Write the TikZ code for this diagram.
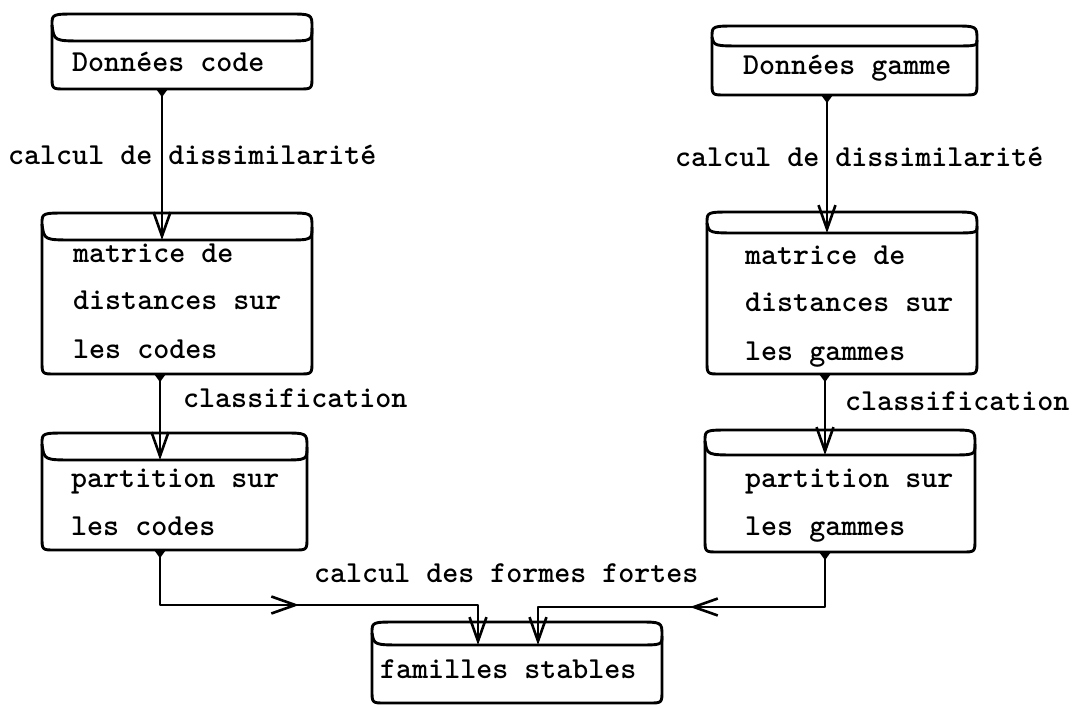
\documentclass[tikz,border=0pt]{standalone}
\usepackage{fontspec}
\usetikzlibrary{arrows.meta,decorations.markings}
\tikzset{
  boxline/.style={line width=2.9pt, line join=round},
  conn/.style={line width=2.9pt, line join=round,
    arrows={Triangle[reversed,length=8pt,width=11pt]-Straight Barb[length=24pt,width=17pt,line width=2.6pt]}},
  midarrow/.style={postaction={decorate}, decoration={markings,
    mark=at position #1 with {\arrow{Straight Barb[length=24pt,width=17pt,line width=2.6pt]}}}},
  lbl/.style={anchor=base west, inner sep=0pt, font=\ttfamily\bfseries\fontsize{30.5}{47}\selectfont},
}
% name, x0, ytop, ylid, x1, ybottom
\newcommand\cylbox[6]{%
  \node[draw=none, inner sep=0pt, minimum width={#5pt-#2pt}, minimum height={#6pt-#3pt}]
    (#1) at ({(#2+#5)/2},{(#3+#6)/2}) {};
  \coordinate (#1-lid) at (#2,#4);
  \draw[boxline] (#2,{#3+11}) .. controls (#2,#3) .. ({#2+26},#3) -- ({#5-24},#3)
    .. controls (#5,#3) .. (#5,{#3+14}) -- (#5,{#6-13}) .. controls (#5,#6) .. ({#5-13},#6)
    -- ({#2+13},#6) .. controls (#2,#6) .. (#2,{#6-13}) -- cycle;
  \draw[boxline] (#2,{#3+11}) .. controls ({#2+2},#4) .. ({#2+32},#4) -- ({#5-26},#4)
    .. controls (#5,#4) .. (#5,{#3+14});
}
\begin{document}
\begin{tikzpicture}[x=1pt,y=-1pt]
\useasboundingbox (0,0) rectangle (1086,708);
\coordinate (cA) at (162,0);
\coordinate (cB) at (160,0);
\coordinate (cR) at (827,0);
\coordinate (cR2) at (825,0);
\coordinate (dL) at (478,0);
\coordinate (dR) at (538,0);
\coordinate (hL) at (0,605);
\coordinate (hR) at (0,607);

% boxes
\cylbox{A}{52}{14}{41}{312}{89}
\cylbox{B}{42}{213}{240}{312}{374}
\cylbox{C}{42}{433}{460}{307}{550}
\cylbox{D}{372}{622}{645}{662}{703}
\cylbox{E}{712}{26}{46}{977}{95}
\cylbox{F}{707}{212}{233}{977}{374}
\cylbox{G}{705}{430}{455}{975}{552}

% texts
\node[lbl] (At) at (72,72) {Données code};
\node[lbl] (Bt1) at (73,263) {matrice de};
\node[lbl] (Bt2) at (73,310) {distances sur};
\node[lbl] (Bt3) at (73,358) {les codes};
\node[lbl] (Ct1) at (71,487) {partition sur};
\node[lbl] (Ct2) at (71,535) {les codes};
\node[lbl] (Dt) at (380,678) {familles stables};
\node[lbl] (Et) at (743,75) {Données gamme};
\node[lbl] (Ft1) at (745,265) {matrice de};
\node[lbl] (Ft2) at (745,312) {distances sur};
\node[lbl] (Ft3) at (745,360) {les gammes};
\node[lbl] (Gt1) at (745,487) {partition sur};
\node[lbl] (Gt2) at (745,535) {les gammes};

% connector labels
\node[lbl] (l1) at (8,165) {calcul de dissimilarité};
\node[lbl] (l2) at (675,167) {calcul de dissimilarité};
\node[lbl] (l3) at (183,407) {classification};
\node[lbl] (l4) at (845,410) {classification};
\node[lbl] (l5) at (314,582) {calcul des formes fortes};

% connectors
\draw[conn] (A.south -| cA) -- (B-lid -| cA);
\draw[conn] (B.south -| cB) -- (C-lid -| cB);
\draw[conn] (E.south -| cR) -- (F-lid -| cR);
\draw[conn] (F.south -| cR2) -- (G-lid -| cR2);
\draw[conn, midarrow=0.47] (C.south -| cB) -- (hL -| cB) -- (hL -| dL) -- (D-lid -| dL);
\draw[conn, midarrow=0.5] (G.south -| cR2) -- (hR -| cR2) -- (hR -| dR) -- (D-lid -| dR);
\end{tikzpicture}
\end{document}
